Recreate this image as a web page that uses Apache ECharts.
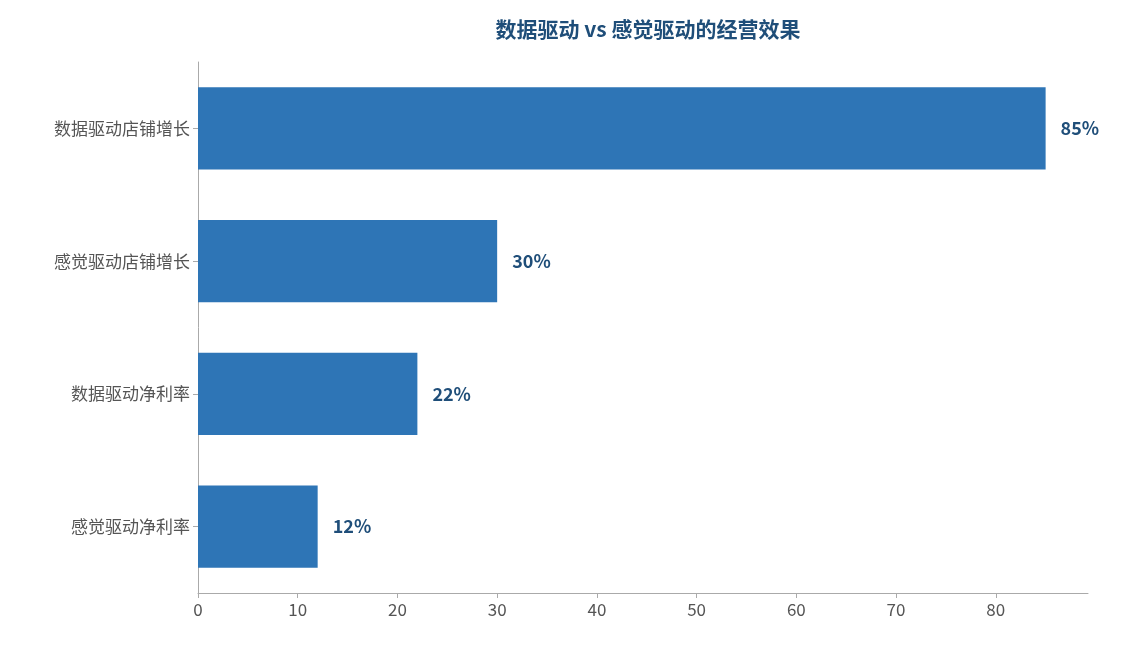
<!DOCTYPE html>
<html><head><meta charset="utf-8">
<script src="https://cdn.jsdelivr.net/npm/echarts@6/dist/echarts.min.js"></script>
<style>html,body{margin:0;padding:0;background:#fff}#c{width:1124px;height:645px}</style>
</head><body><div id="c"></div>
<script>
const categories = ['数据驱动店铺增长','感觉驱动店铺增长','数据驱动净利率','感觉驱动净利率'];
const values = [85, 30, 22, 12];
const chart = echarts.init(document.getElementById('c'));
const font = '"Noto Sans CJK SC","Noto Sans",sans-serif';
chart.setOption({
  animation:false,
  title:{text:'数据驱动 vs 感觉驱动的经营效果',left:643,textAlign:'center',top:14,
    textStyle:{fontFamily:font,fontSize:21,fontWeight:'bold',color:'#1f4e79'}},
  grid:{left:198,right:36,top:62,bottom:52},
  xAxis:{type:'value',min:0,max:89.25,interval:10,splitLine:{show:false},
    axisLine:{show:true,lineStyle:{color:'#aaa'}},axisTick:{show:true,lineStyle:{color:'#aaa'}},
    axisLabel:{showMaxLabel:false,color:'#555',fontSize:17,fontFamily:font}},
  yAxis:{type:'category',data:categories,inverse:true,
    axisLine:{show:true,lineStyle:{color:'#aaa'}},axisTick:{show:true,alignWithLabel:true,lineStyle:{color:'#aaa'}},
    axisLabel:{color:'#555',fontSize:17,fontFamily:font}},
  series:[{type:'bar',data:values,barWidth:'62%',itemStyle:{color:'#2e75b6'},
    label:{show:true,position:'right',distance:15,formatter:'{c}%',color:'#1f4e79',fontWeight:'bold',fontSize:18,fontFamily:font}}]
});
</script></body></html>
